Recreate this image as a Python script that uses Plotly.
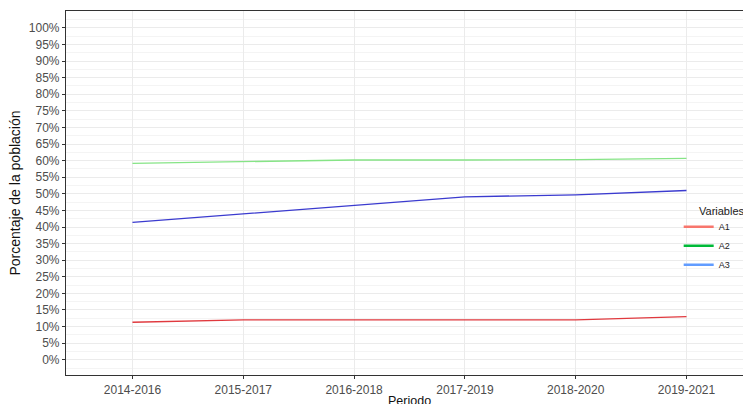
import plotly.graph_objects as go

# ─── Data ──────────────────────────────────────────────────────────────────────
PERIODOS = ["2014-2016", "2015-2017", "2016-2018", "2017-2019", "2018-2020", "2019-2021"]
A1 = [11.3, 12.0, 12.0, 12.0, 12.0, 13.0]
A2 = [59.2, 59.8, 60.2, 60.2, 60.3, 60.7]
A3 = [41.4, 44.0, 46.5, 49.1, 49.7, 51.0]
Y_TICKS = list(range(0, 101, 5))
Y_LABELS = [f"{v}%" for v in Y_TICKS]

# ─── Colours ───────────────────────────────────────────────────────────────────
LINE_COLORS = {"A1": "#e0393e", "A2": "#86e486", "A3": "#3b3bcf"}
KEY_COLORS = {"A1": "#F8766D", "A2": "#00BA38", "A3": "#619CFF"}
TICK = "#4d4d4d"
GRID = "#ebebeb"

x_idx = list(range(len(PERIODOS)))

fig = go.Figure()
for name, vals in [("A1", A1), ("A2", A2), ("A3", A3)]:
    fig.add_trace(go.Scatter(x=x_idx, y=vals, mode="lines", name=name,
                             line=dict(color=LINE_COLORS[name], width=1.3),
                             showlegend=False))
# legend keys (ggplot default hues)
for name in ["A1", "A2", "A3"]:
    fig.add_trace(go.Scatter(x=[None], y=[None], mode="lines", name=name,
                             line=dict(color=KEY_COLORS[name], width=2.5)))

fig.update_layout(
    width=743, height=404,
    margin=dict(l=66, r=0, t=11, b=29),
    plot_bgcolor="white", paper_bgcolor="white",
    font=dict(family="Liberation Sans, Arial, sans-serif", color=TICK),
    legend=dict(font=dict(size=9, color="#222"),
                x=0.905, y=0.355, xanchor="left", yanchor="middle",
                bgcolor="rgba(0,0,0,0)", itemwidth=30, tracegroupgap=0),
)
fig.update_xaxes(
    range=[-0.6, 5.51], tickvals=x_idx, ticktext=PERIODOS,
    tickfont=dict(size=12, color=TICK), ticks="outside", ticklen=3,
    tickcolor="#333", showgrid=True, gridcolor=GRID, gridwidth=1,
    showline=True, linecolor="#333", linewidth=1.2, mirror=True, zeroline=False,
    automargin=False,
)
fig.update_yaxes(
    range=[-4.6, 105.1], tickvals=Y_TICKS, ticktext=Y_LABELS,
    tickfont=dict(size=12, color=TICK), ticks="outside", ticklen=3,
    tickcolor="#333", showgrid=True, gridcolor=GRID, gridwidth=1,
    minor=dict(dtick=2.5, tick0=2.5, showgrid=True, gridcolor="#f4f4f4", gridwidth=1),
    showline=True, linecolor="#333", linewidth=1.2, mirror=True, zeroline=False,
    automargin=False,
    title=dict(text="Porcentaje de la población", font=dict(size=14, color="#111"),
               standoff=4),
)
fig.add_annotation(text="Variables", x=0.932, xref="paper", xanchor="left",
                   y=0.45, yref="paper", yanchor="middle", showarrow=False,
                   font=dict(size=11, color="#222"))
fig.add_annotation(text="Periodo", x=2.5, xref="x", y=-17 / 364, yref="paper",
                   yanchor="top", showarrow=False,
                   font=dict(size=12.5, color="#111"))

# page body has a default 8px margin; drop it so the figure fills the window
fig.write_html("out.html", config={"displayModeBar": False},
               post_script="document.body.style.margin='0';")
